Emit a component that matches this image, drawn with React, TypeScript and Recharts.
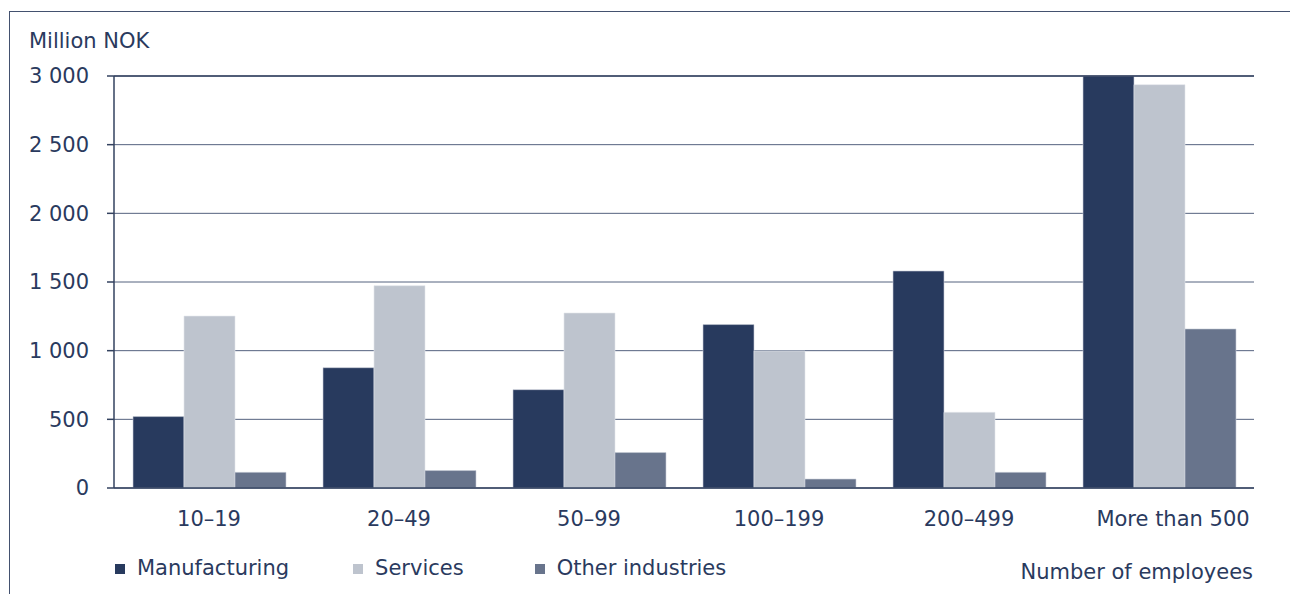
import { BarChart, Bar, XAxis, YAxis, CartesianGrid, Legend, ReferenceLine } from 'recharts';

// employee size groups
const sizeGroups = ['10–19', '20–49', '50–99', '100–199', '200–499', 'More than 500'];

// Million NOK
const manufacturing = [520, 876, 716, 1190, 1580, 3000];
const services = [1252, 1473, 1274, 998, 551, 2937];
const otherIndustries = [114, 127, 258, 65, 114, 1158];

const yTicks = [0, 500, 1000, 1500, 2000, 2500, 3000];

const seriesNames = ['Manufacturing', 'Services', 'Other industries'];

const TEXT = '#2a3a5e';
const FONT = '"DejaVu Sans", Verdana, sans-serif';

const data = sizeGroups.map((group, i) => ({
  group,
  manufacturing: manufacturing[i],
  services: services[i],
  other: otherIndustries[i],
}));

// "3 000" style, space as thousands separator
const formatTick = (v: number) =>
  v >= 1000 ? `${Math.floor(v / 1000)} ${String(v % 1000).padStart(3, '0')}` : String(v);

// last label sits a bit right of its band centre in the original
const XTick = ({ x, y, payload, index }: { x?: number; y?: number; payload?: { value: string }; index?: number }) => (
  <text
    x={(x ?? 0) + (index === sizeGroups.length - 1 ? 14 : 0)}
    y={y}
    dy="0.71em"
    textAnchor="middle"
    fill={TEXT}
    fontSize={21}
    fontFamily={FONT}
  >
    {payload?.value}
  </text>
);

const CustomLegend = ({ payload }: { payload?: Array<{ value: string; color: string }> }) => {
  if (!payload) return null;
  const items = [...payload].sort((a, b) => seriesNames.indexOf(a.value) - seriesNames.indexOf(b.value));
  const gaps = [64, 71, 0];
  return (
    <div style={{ display: 'flex', alignItems: 'center', fontFamily: FONT, fontSize: 21, lineHeight: '21px', color: TEXT }}>
      {items.map((entry, i) => (
        <div key={entry.value} style={{ display: 'flex', alignItems: 'center', marginRight: gaps[i] }}>
          <span style={{ width: 10, height: 10, background: entry.color, marginRight: 12, marginTop: 1 }} />
          <span>{entry.value}</span>
        </div>
      ))}
    </div>
  );
};

export default function App() {
  return (
    <div style={{ position: 'relative', width: 1290, height: 594, overflow: 'hidden', background: '#fff' }}>
      <style>{'body{margin:0}'}</style>

      {/* outer frame, only top and left edges visible */}
      <div
        style={{
          position: 'absolute',
          left: 9,
          top: 11,
          width: 1400,
          height: 700,
          borderTop: '1.5px solid #43516f',
          borderLeft: '1.5px solid #43516f',
        }}
      />

      <div style={{ position: 'absolute', left: 29, top: 31, fontFamily: FONT, fontSize: 21, lineHeight: '21px', color: TEXT }}>
        Million NOK
      </div>

      <div
        style={{
          position: 'absolute',
          right: 37,
          top: 562,
          fontFamily: FONT,
          fontSize: 21,
          lineHeight: '21px',
          color: TEXT,
        }}
      >
        Number of employees
      </div>

      <div style={{ position: 'absolute', left: 0, top: 0 }}>
        <BarChart
          width={1290}
          height={594}
          data={data}
          margin={{ top: 76, right: 36, bottom: 66, left: 14 }}
          barCategoryGap="10%"
          barGap={0}
        >
          <CartesianGrid vertical={false} stroke="#55627f" strokeWidth={1} />
          <XAxis
            dataKey="group"
            height={40}
            tickLine={false}
            tickSize={0}
            tickMargin={23}
            axisLine={{ stroke: '#33425f', strokeWidth: 1.5 }}
            tick={<XTick />}
            interval={0}
          />
          <YAxis
            width={100}
            domain={[0, 3000]}
            ticks={yTicks}
            allowDataOverflow
            tickSize={7}
            tickMargin={18}
            tickFormatter={formatTick}
            axisLine={{ stroke: '#33425f', strokeWidth: 1.5 }}
            tickLine={{ stroke: '#33425f', strokeWidth: 1.5 }}
            tick={{ fill: TEXT, fontSize: 21, fontFamily: FONT }}
          />
          <YAxis
            yAxisId="r"
            orientation="right"
            width={0}
            domain={[0, 3000]}
            tick={false}
            tickLine={false}
            axisLine={{ stroke: '#33425f', strokeWidth: 1.5 }}
          />
          <ReferenceLine y={3000} stroke="#33425f" strokeWidth={1.5} />
          <Bar dataKey="manufacturing" name={seriesNames[0]} fill="#283a5e" stroke="#c9ced8" strokeWidth={0.6} isAnimationActive={false} />
          <Bar dataKey="services" name={seriesNames[1]} fill="#bec4ce" stroke="#e3e6eb" strokeWidth={0.6} isAnimationActive={false} />
          <Bar dataKey="other" name={seriesNames[2]} fill="#68748c" stroke="#c9ced8" strokeWidth={0.6} isAnimationActive={false} />
          <Legend
            layout="horizontal"
            verticalAlign="middle"
            align="center"
            content={<CustomLegend />}
            wrapperStyle={{ position: 'absolute', left: 115, top: 558, width: 'auto' }}
          />
        </BarChart>
      </div>
    </div>
  );
}
